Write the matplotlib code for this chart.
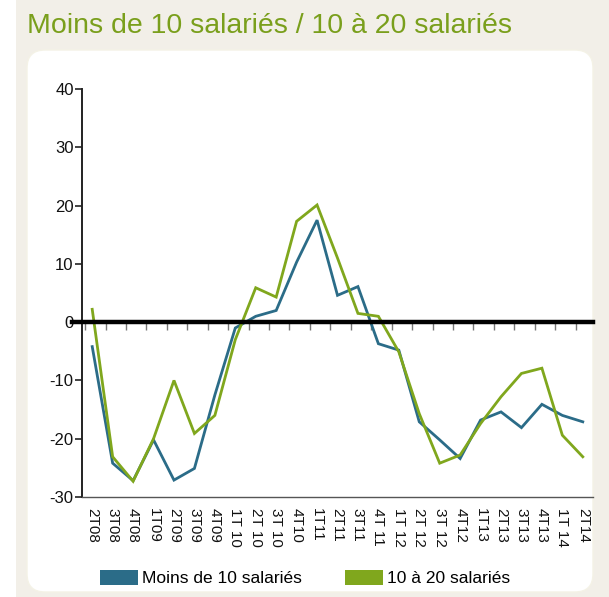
import matplotlib
matplotlib.use("Agg")
import matplotlib.pyplot as plt
from matplotlib import font_manager
from matplotlib.patches import FancyBboxPatch, Rectangle, Patch
from matplotlib.transforms import IdentityTransform

# --- data ---
quarters = ["2T08", "3T08", "4T08", "1T09", "2T09", "3T09", "4T09", "1T 10",
            "2T 10", "3T 10", "4T10", "1T11", "2T11", "3T11", "4T 11", "1T 12",
            "2T 12", "3T 12", "4T12", "1T13", "2T13", "3T13", "4T13", "1T 14",
            "2T14"]
moins_10 = [-4.2, -24.2, -27.2, -20.2, -27.1, -25.1, -12.5, -1.0, 1.0, 2.0,
            10.3, 17.5, 4.6, 6.1, -3.7, -4.8, -17.1, -20.2, -23.4, -16.8,
            -15.4, -18.1, -14.1, -16.0, -17.1]
de_10_a_20 = [2.2, -23.1, -27.3, -20.0, -10.0, -19.1, -16.0, -3.0, 5.9, 4.3,
              17.3, 20.1, 11.0, 1.5, 1.0, -5.1, -15.7, -24.2, -22.8, -17.4,
              -12.8, -8.8, -7.9, -19.4, -23.1]
y_ticks = [-30, -20, -10, 0, 10, 20, 30, 40]

BLUE = "#2b6c88"
GREEN = "#80a71d"
BEIGE = "#f2efe8"

installed = {f.name for f in font_manager.fontManager.ttflist}
if "Liberation Sans Narrow" in installed:
    narrow = "Liberation Sans Narrow"
else:
    narrow = "Liberation Sans"
plt.rcParams["font.family"] = [narrow, "DejaVu Sans"]

W, H = 609, 597
fig = plt.figure(figsize=(W / 100, H / 100), dpi=100)
fig.patch.set_facecolor(BEIGE)

# white strip on the far left and white rounded panel (pixel coords)
fig.patches.append(Rectangle((0, 0), 16, H, transform=IdentityTransform(),
                             facecolor="white", edgecolor="none", zorder=-2))
panel = FancyBboxPatch((27 + 18, 5 + 18), 593 - 27 - 36, 542 - 36,
                       boxstyle="round,pad=18", transform=IdentityTransform(),
                       facecolor="white", edgecolor="#f4f2e6", lw=1, zorder=-2)
fig.patches.append(panel)

fig.text(27 / W, 1 - 26 / H, "Moins de 10 salariés / 10 à 20 salariés",
         color="#7a9f1c", fontsize=20.5, ha="left", va="center")

ax = fig.add_axes([82 / W, 1 - 497 / H, (593 - 82) / W, (497 - 89) / H])
ax.set_facecolor("none")
ax.set_zorder(1)

x = list(range(len(quarters)))
ax.plot(x, moins_10, color=BLUE, lw=2.0, solid_joinstyle="miter", zorder=3)
ax.plot(x, de_10_a_20, color=GREEN, lw=2.0, solid_joinstyle="miter", zorder=3)
ax.axhline(0, xmin=-0.02, xmax=1, color="black", lw=3.2, zorder=4, clip_on=False)

ax.set_xlim(-0.5, len(quarters) - 0.5)
ax.set_ylim(-30, 40)

for s in ["top", "right"]:
    ax.spines[s].set_visible(False)
ax.spines["left"].set_color("#222222")
ax.spines["left"].set_linewidth(1.4)
ax.spines["bottom"].set_color("#555555")
ax.spines["bottom"].set_linewidth(1.0)

ax.set_yticks(y_ticks)
ax.set_yticklabels([str(v) for v in y_ticks])
ax.tick_params(axis="y", direction="out", length=5, width=1.2, color="#222222",
               labelsize=12, labelcolor="#111111", pad=1)
ax.set_xticks(x)
ax.set_xticklabels(quarters, rotation=-90, fontsize=11, color="#111111")
ax.tick_params(axis="x", length=0, pad=8)

# category tick marks hanging below the zero line
sec = ax.secondary_xaxis(30 / 70)
sec.set_xticks([i - 0.35 for i in x])
sec.set_xticklabels([])
sec.spines["bottom"].set_visible(False)
sec.tick_params(axis="x", direction="out", length=6, width=1.0, color="#777777", pad=0)

handles = [Patch(facecolor=BLUE, edgecolor="none", label="Moins de 10 salariés"),
           Patch(facecolor=GREEN, edgecolor="none", label="10 à 20 salariés")]
fig.legend(handles=handles, loc="center", bbox_to_anchor=(305 / W, 1 - 578 / H),
           ncol=2, frameon=False, fontsize=12.5, handlelength=2.2, handleheight=1.0,
           handletextpad=0.2, columnspacing=2.5)

fig.savefig("out.png", dpi=100, facecolor=fig.get_facecolor())
